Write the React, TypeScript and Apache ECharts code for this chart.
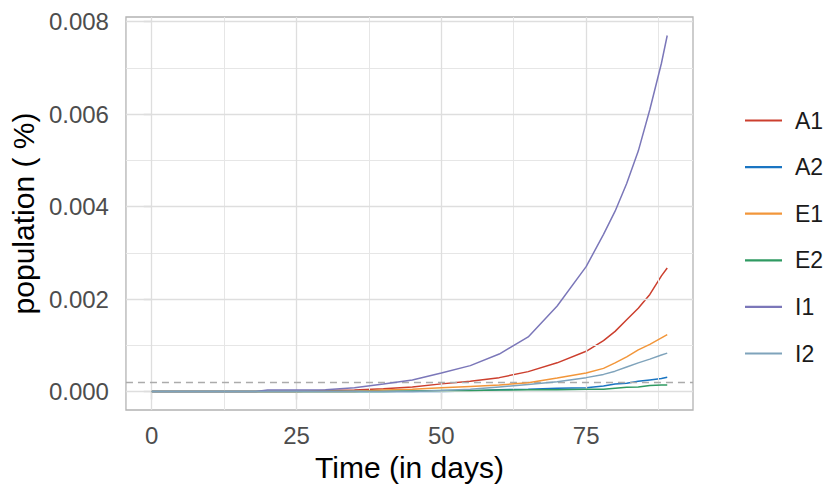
import React, { useEffect, useRef } from "react";
import * as echarts from "echarts";

const days = [0, 18, 20, 25, 30, 35, 40, 45, 50, 55, 60, 65, 70, 75, 78, 80, 82, 84, 86, 88, 89];

const seriesNames = ["A1", "A2", "E1", "E2", "I1", "I2"];
const seriesColors = ["#CC3F2E", "#1A75C2", "#F2963A", "#2F9A62", "#7B77B9", "#7FA3BB"];

const A1 = [0, 0, 0, 0, 0.00002, 0.00003, 0.00006, 0.0001, 0.000165, 0.00022, 0.0003, 0.00043, 0.00062, 0.00087, 0.0011, 0.0013, 0.00155, 0.0018, 0.0021, 0.0025, 0.00267];
const A2 = [0, 0, 0, 0, 0, 0, 0, 0, 0, 0.00001, 0.00004, 0.00005, 0.00007, 0.00008, 0.00012, 0.00016, 0.00018, 0.00022, 0.00025, 0.00028, 0.00031];
const E1 = [0, 0, 0, 0, 0, 0, 0.00003, 0.00005, 0.00008, 0.00011, 0.00014, 0.00019, 0.00029, 0.0004, 0.0005, 0.00062, 0.00075, 0.0009, 0.00102, 0.00116, 0.00123];
const E2 = [0, 0, 0, 0, 0, 0, 0, 0.00001, 0.00002, 0.00002, 0.00003, 0.00004, 0.00004, 0.00005, 0.00005, 0.00007, 0.00009, 0.0001, 0.00013, 0.00014, 0.00014];
const I1 = [0, 0, 0.00003, 0.00003, 0.00004, 0.00008, 0.00016, 0.00025, 0.0004, 0.00056, 0.00081, 0.00118, 0.00185, 0.0027, 0.0034, 0.0039, 0.0045, 0.0052, 0.0061, 0.0071, 0.0077];
const I2 = [0, 0, 0, 0, 0, 0, 0, 0, 0.00002, 0.00005, 0.0001, 0.00015, 0.00021, 0.0003, 0.00037, 0.00044, 0.00053, 0.00062, 0.0007, 0.00079, 0.00083];

const seriesValues = [A1, A2, E1, E2, I1, I2];

const xTicks = [0, 25, 50, 75];
const xMinorTicks = [12.5, 37.5, 62.5, 87.5];
const yTicks = [0, 0.002, 0.004, 0.006, 0.008];
const yMinorTicks = [0.001, 0.003, 0.005, 0.007];
const thresholdValue = 0.00019;

const xRange = [-4.45, 93.45];
const yRange = [-0.0004, 0.0081];

export default function App() {
  const ref = useRef<HTMLDivElement>(null);

  useEffect(() => {
    document.body.style.margin = "0";
    if (!ref.current) return;
    const chart = echarts.init(ref.current, null, { renderer: "svg" });
    const font = "'Liberation Sans', Arial, sans-serif";

    const minorStyle = { color: "#E6E6E6", width: 1, type: "solid" };
    const majorStyle = { color: "#DEDEDE", width: 1.3, type: "solid" };
    const vLine = (v: number, style: any) => [
      { coord: [v, yRange[0]], lineStyle: style },
      { coord: [v, yRange[1]] },
    ];
    const hLine = (v: number, style: any) => [
      { coord: [xRange[0], v], lineStyle: style },
      { coord: [xRange[1], v] },
    ];
    const gridLineData: any[] = [
      ...xMinorTicks.map((v) => vLine(v, minorStyle)),
      ...yMinorTicks.map((v) => hLine(v, minorStyle)),
      ...xTicks.map((v) => vLine(v, majorStyle)),
      ...yTicks.map((v) => hLine(v, majorStyle)),
    ];

    const dataSeries = seriesNames.map((name, i) => ({
      name,
      type: "line",
      data: days.map((d, j) => [d, seriesValues[i][j]]),
      symbol: "none",
      showSymbol: false,
      lineStyle: { color: seriesColors[i], width: 1.5 },
      itemStyle: { color: seriesColors[i] },
      z: 3 + i,
    }));

    chart.setOption({
      animation: false,
      backgroundColor: "#FFFFFF",
      grid: {
        left: 122,
        right: 136,
        top: 17,
        bottom: 75,
        show: true,
        borderColor: "#B3B3B3",
        borderWidth: 1.3,
        backgroundColor: "#FFFFFF",
        containLabel: false,
      },
      legend: {
        orient: "vertical",
        left: 740,
        top: 104,
        icon: "rect",
        itemWidth: 37,
        itemHeight: 2.2,
        itemGap: 23.6,
        data: seriesNames,
        textStyle: { fontFamily: font, fontSize: 23, color: "#1A1A1A", padding: [0, 0, 0, 8] },
        selectedMode: false,
      },
      xAxis: {
        type: "value",
        min: xRange[0],
        max: xRange[1],
        name: "Time (in days)",
        nameLocation: "middle",
        nameGap: 42,
        nameTextStyle: { fontFamily: font, fontSize: 30, color: "#000000" },
        axisLine: { show: false },
        splitLine: { show: false },
        axisTick: { show: true, length: 8, lineStyle: { color: "#B3B3B3", width: 1.3 }, customValues: xTicks },
        axisLabel: {
          show: true,
          customValues: xTicks,
          margin: 13,
          fontFamily: font,
          fontSize: 24,
          color: "#4D4D4D",
          formatter: (v: number) => String(v),
        },
      },
      yAxis: {
        type: "value",
        min: yRange[0],
        max: yRange[1],
        name: "population ( %)",
        nameLocation: "middle",
        nameGap: 78,
        nameRotate: 90,
        nameTextStyle: { fontFamily: font, fontSize: 30, color: "#000000" },
        axisLine: { show: false },
        splitLine: { show: false },
        axisTick: { show: true, length: 8, lineStyle: { color: "#B3B3B3", width: 1.3 }, customValues: yTicks },
        axisLabel: {
          show: true,
          customValues: yTicks,
          margin: 17,
          fontFamily: font,
          fontSize: 24,
          color: "#4D4D4D",
          formatter: (v: number) => v.toFixed(3),
        },
      },
      series: [
        {
          name: "__grid",
          type: "line",
          data: [],
          silent: true,
          z: 1,
          markLine: {
            silent: true,
            symbol: ["none", "none"],
            label: { show: false },
            emphasis: { disabled: true },
            data: gridLineData,
          },
        },
        {
          name: "__threshold",
          type: "line",
          data: [],
          silent: true,
          z: 2,
          markLine: {
            silent: true,
            symbol: ["none", "none"],
            label: { show: false },
            emphasis: { disabled: true },
            lineStyle: { color: "#ABABAB", width: 1.3, type: [7, 5] },
            data: [[{ coord: [xRange[0], thresholdValue] }, { coord: [xRange[1], thresholdValue] }]],
          },
        },
        ...dataSeries,
      ],
    });

    return () => {
      chart.dispose();
    };
  }, []);

  return <div ref={ref} style={{ width: 829, height: 487 }} />;
}
